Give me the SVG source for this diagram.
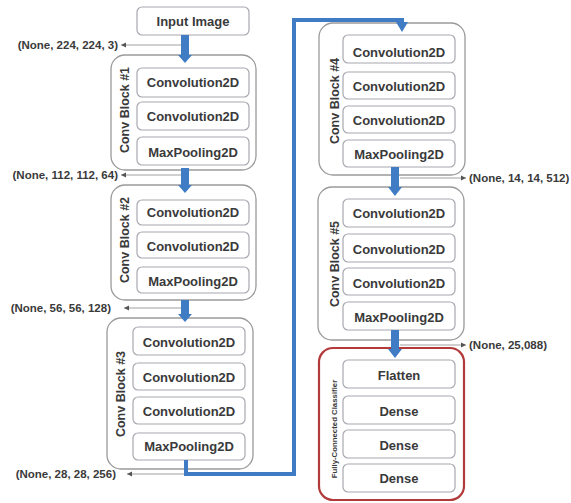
<svg xmlns="http://www.w3.org/2000/svg" width="571" height="503" viewBox="0 0 571 503">
<style>
.outer{fill:#fff;stroke:#9a9a9a;stroke-width:1.3}
.fc{fill:#fff;stroke:#b23a3a;stroke-width:2.2}
.inner{fill:#fff;stroke:#a8a8b0;stroke-width:1.2}
.t{font-family:"Liberation Sans",Arial,sans-serif;font-weight:bold;font-size:13px;fill:#3a3a3a;text-anchor:middle;dominant-baseline:central}
.lbl{font-family:"Liberation Sans",Arial,sans-serif;font-weight:bold;font-size:11.5px;fill:#3a3a3a;dominant-baseline:central}
.rot{font-family:"Liberation Sans",Arial,sans-serif;font-weight:bold;font-size:12.5px;fill:#3a3a3a;text-anchor:middle;dominant-baseline:central}
.thin{stroke:#888;stroke-width:0.8;fill:none}
.blue{fill:#3f7cc4}
.bl{stroke:#3f7cc4;stroke-width:4;fill:none}
</style>
<defs>
<marker id="sm" markerWidth="6" markerHeight="6" refX="5" refY="3" orient="auto" markerUnits="userSpaceOnUse">
<path d="M0,0.5 L5,3 L0,5.5 Z" fill="#555"/>
</marker>
</defs>
<rect width="571" height="503" fill="#fff"/>

<g id="input">
<rect class="inner" x="137" y="7" width="112" height="28" rx="5"/>
<text class="t" x="193" y="21">Input Image</text>
</g>

<g id="block1">
<rect class="outer" x="111" y="55" width="145" height="115" rx="14"/>
<text class="rot" transform="translate(125,110) rotate(-90)">Conv Block #1</text>
<rect class="inner" x="137" y="68" width="112" height="29" rx="5"/>
<text class="t" x="193" y="82">Convolution2D</text>
<rect class="inner" x="137" y="102" width="112" height="28" rx="5"/>
<text class="t" x="193" y="116">Convolution2D</text>
<rect class="inner" x="137" y="137" width="112" height="28" rx="5"/>
<text class="t" x="193" y="152">MaxPooling2D</text>
</g>

<g id="block2">
<rect class="outer" x="111" y="185" width="145" height="115" rx="14"/>
<text class="rot" transform="translate(125,240) rotate(-90)">Conv Block #2</text>
<rect class="inner" x="137" y="200" width="112" height="25" rx="5"/>
<text class="t" x="193" y="212">Convolution2D</text>
<rect class="inner" x="137" y="232" width="112" height="26" rx="5"/>
<text class="t" x="193" y="246">Convolution2D</text>
<rect class="inner" x="137" y="267" width="112" height="26" rx="5"/>
<text class="t" x="193" y="281">MaxPooling2D</text>
</g>

<g id="block3">
<rect class="outer" x="107" y="318" width="146" height="151" rx="14"/>
<text class="rot" transform="translate(121,394) rotate(-90)">Conv Block #3</text>
<rect class="inner" x="133" y="327" width="112" height="28" rx="5"/>
<text class="t" x="189" y="342">Convolution2D</text>
<rect class="inner" x="133" y="363" width="112" height="27" rx="5"/>
<text class="t" x="189" y="377">Convolution2D</text>
<rect class="inner" x="133" y="397" width="112" height="27" rx="5"/>
<text class="t" x="189" y="411">Convolution2D</text>
<rect class="inner" x="133" y="433" width="112" height="27" rx="5"/>
<text class="t" x="189" y="446">MaxPooling2D</text>
</g>

<g id="block4">
<rect class="outer" x="319" y="23" width="146" height="152" rx="14"/>
<text class="rot" transform="translate(335,101) rotate(-90)">Conv Block #4</text>
<rect class="inner" x="343" y="35" width="112" height="28" rx="5"/>
<text class="t" x="399" y="52">Convolution2D</text>
<rect class="inner" x="343" y="72" width="112" height="27" rx="5"/>
<text class="t" x="399" y="86">Convolution2D</text>
<rect class="inner" x="343" y="106" width="112" height="27" rx="5"/>
<text class="t" x="399" y="120">Convolution2D</text>
<rect class="inner" x="343" y="140" width="112" height="27" rx="5"/>
<text class="t" x="399" y="154">MaxPooling2D</text>
</g>

<g id="block5">
<rect class="outer" x="318" y="187" width="146" height="153" rx="14"/>
<text class="rot" transform="translate(335,264) rotate(-90)">Conv Block #5</text>
<rect class="inner" x="343" y="199" width="112" height="28" rx="5"/>
<text class="t" x="399" y="213">Convolution2D</text>
<rect class="inner" x="343" y="234" width="112" height="28" rx="5"/>
<text class="t" x="399" y="249">Convolution2D</text>
<rect class="inner" x="343" y="268" width="112" height="27" rx="5"/>
<text class="t" x="399" y="283">Convolution2D</text>
<rect class="inner" x="343" y="302" width="112" height="28" rx="5"/>
<text class="t" x="399" y="317">MaxPooling2D</text>
</g>

<g id="classifier">
<rect class="fc" x="319" y="348" width="145" height="152" rx="14"/>
<text class="rot" style="font-size:7.8px" transform="translate(334,429) rotate(-90)">Fully-Connected Classifier</text>
<rect class="inner" x="343" y="360" width="112" height="28" rx="5"/>
<text class="t" x="399" y="375">Flatten</text>
<rect class="inner" x="343" y="396" width="112" height="28" rx="5"/>
<text class="t" x="399" y="411">Dense</text>
<rect class="inner" x="343" y="430" width="112" height="28" rx="5"/>
<text class="t" x="399" y="445">Dense</text>
<rect class="inner" x="343" y="464" width="112" height="28" rx="5"/>
<text class="t" x="399" y="478">Dense</text>
</g>

<g id="connectors">
<line class="thin" x1="183" y1="45" x2="121" y2="45" marker-end="url(#sm)"/>
<line class="thin" x1="183" y1="175" x2="121" y2="175" marker-end="url(#sm)"/>
<line class="thin" x1="183" y1="308" x2="124" y2="308" marker-end="url(#sm)"/>
<line class="thin" x1="184" y1="474" x2="127" y2="474" marker-end="url(#sm)"/>
<line class="thin" x1="400" y1="178" x2="466" y2="178" marker-end="url(#sm)"/>
<line class="thin" x1="400" y1="345" x2="466" y2="345" marker-end="url(#sm)"/>
<path class="blue" d="M181,35 H189 V55 H192 L185,63 L178,55 H181 Z"/>
<path class="blue" d="M181,168 H189 V185 H192 L185,193 L178,185 H181 Z"/>
<path class="blue" d="M181,300 H189 V314 H192 L185,322 L178,314 H181 Z"/>
<path class="bl" d="M186,460 V474 H294 V20 H402 V24"/>
<path class="blue" d="M396,22 H408 L402,32 Z"/>
<path class="blue" d="M391,167 H399 V187 H402 L395,196 L388,187 H391 Z"/>
<path class="blue" d="M391,330 H399 V349 H402 L395,358 L388,349 H391 Z"/>
</g>

<g id="labels">
<text class="lbl" x="118" y="45" text-anchor="end">(None, 224, 224, 3)</text>
<text class="lbl" x="118" y="175" text-anchor="end">(None, 112, 112, 64)</text>
<text class="lbl" x="111" y="308" text-anchor="end">(None, 56, 56, 128)</text>
<text class="lbl" x="116" y="474" text-anchor="end">(None, 28, 28, 256)</text>
<text class="lbl" x="469" y="178">(None, 14, 14, 512)</text>
<text class="lbl" x="469" y="345">(None, 25,088)</text>
</g>
</svg>
